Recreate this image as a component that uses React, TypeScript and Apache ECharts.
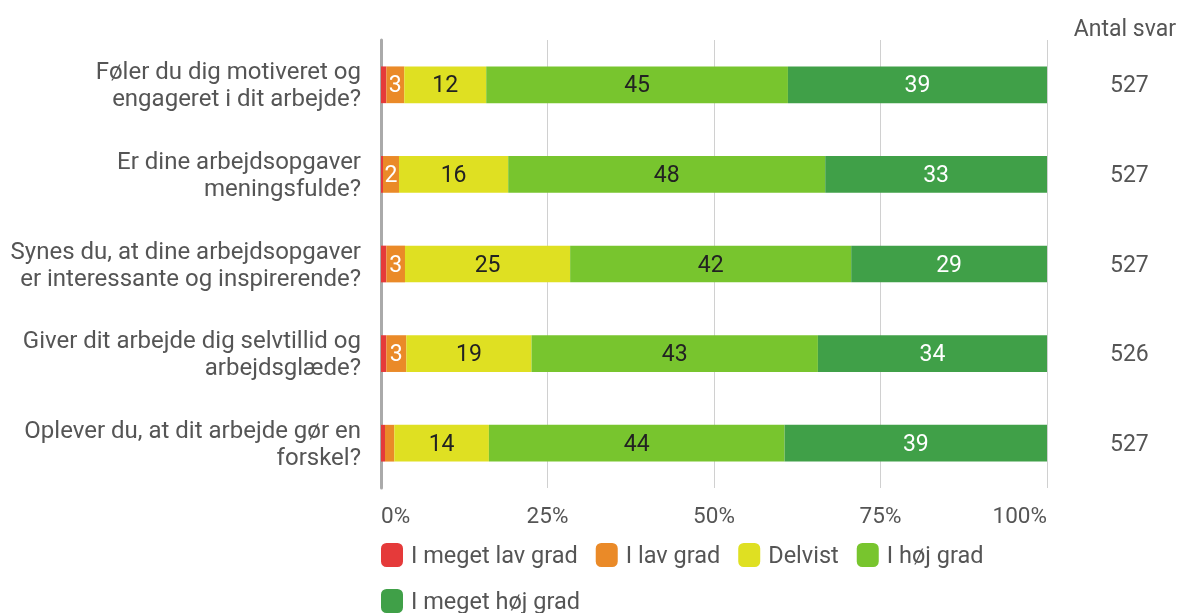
import React, { useEffect, useRef } from "react";
import * as echarts from "echarts";

const categories = [
  "Føler du dig motiveret og\nengageret i dit arbejde?",
  "Er dine arbejdsopgaver\nmeningsfulde?",
  "Synes du, at dine arbejdsopgaver\ner interessante og inspirerende?",
  "Giver dit arbejde dig selvtillid og\narbejdsglæde?",
  "Oplever du, at dit arbejde gør en\nforskel?",
];
const antalSvar = ["527", "527", "527", "526", "527"];
const seriesNames = ["I meget lav grad", "I lav grad", "Delvist", "I høj grad", "I meget høj grad"];
const megetLav = [0.8, 0.3, 0.8, 0.8, 0.6];
const lav = [2.7, 2.4, 2.8, 3.0, 1.4];
const delvist = [12.3, 16.4, 24.8, 18.8, 14.2];
const hoej = [45.3, 47.6, 42.2, 43.0, 44.4];
const megetHoej = [38.9, 33.3, 29.4, 34.4, 39.4];
const xTicks = { min: 0, max: 100, interval: 25 };

const colors = ["#e53a3a", "#ea8a28", "#dfe022", "#78c52e", "#40a048"];
const labelColors = ["#ffffff", "#ffffff", "#222222", "#222222", "#ffffff"];
const FONT = "Roboto";

export default function App() {
  const ref = useRef<HTMLDivElement>(null);
  useEffect(() => {
    if (!ref.current) return;
    const chart = echarts.init(ref.current, null, { renderer: "svg" });
    const allData = [megetLav, lav, delvist, hoej, megetHoej];
    chart.setOption({
      animation: false,
      textStyle: { fontFamily: FONT },
      title: {
        text: "Antal svar",
        right: 3,
        top: 12,
        textStyle: { fontFamily: FONT, fontSize: 23, fontWeight: "normal", color: "#555" },
      },
      legend: {
        left: 381,
        top: 541,
        width: 660,
        padding: 0,
        itemWidth: 22,
        itemHeight: 24,
        itemGap: 18,
        icon: "roundRect",
        textStyle: { fontFamily: FONT, fontSize: 23.5, color: "#555", lineHeight: 28, padding: [0, 0, 0, 3] },
        data: seriesNames,
      },
      grid: { left: 381, right: 137, top: 40, bottom: 125, containLabel: false },
      xAxis: {
        type: "value",
        min: xTicks.min,
        max: xTicks.max,
        interval: xTicks.interval,
        axisLabel: {
          formatter: "{value}%",
          fontFamily: FONT,
          fontSize: 22.5,
          color: "#555",
          margin: 15,
          alignMinLabel: "left",
          alignMaxLabel: "right",
        },
        axisLine: { show: false },
        axisTick: { show: false },
        splitLine: { show: true, lineStyle: { color: "#d0d0d0", width: 1 } },
      },
      yAxis: [
        {
          type: "category",
          data: categories,
          inverse: true,
          axisLine: { show: true, lineStyle: { color: "#aaaaaa", width: 3 } },
          axisTick: { show: false },
          axisLabel: {
            fontFamily: FONT,
            fontSize: 24,
            color: "#555",
            lineHeight: 27,
            margin: 20,
            align: "right",
          },
        },
        {
          type: "category",
          data: antalSvar,
          inverse: true,
          position: "right",
          axisLine: { show: false },
          axisTick: { show: false },
          axisLabel: { fontFamily: FONT, fontSize: 23, color: "#555", margin: 63 },
        },
      ],
      series: seriesNames.map((name, i) => ({
        name,
        type: "bar",
        stack: "total",
        barWidth: "41%",
        yAxisIndex: 0,
        itemStyle: { color: colors[i] },
        label: {
          show: true,
          position: "inside",
          fontFamily: FONT,
          fontSize: 23,
          color: labelColors[i],
          formatter: (p: any) => (p.value >= 2 ? String(Math.round(p.value)) : ""),
        },
        data: allData[i],
      })),
    });
    return () => chart.dispose();
  }, []);
  return (
    <div
      ref={ref}
      style={{ position: "fixed", left: 0, top: 0, width: 1184, height: 613 }}
    />
  );
}
